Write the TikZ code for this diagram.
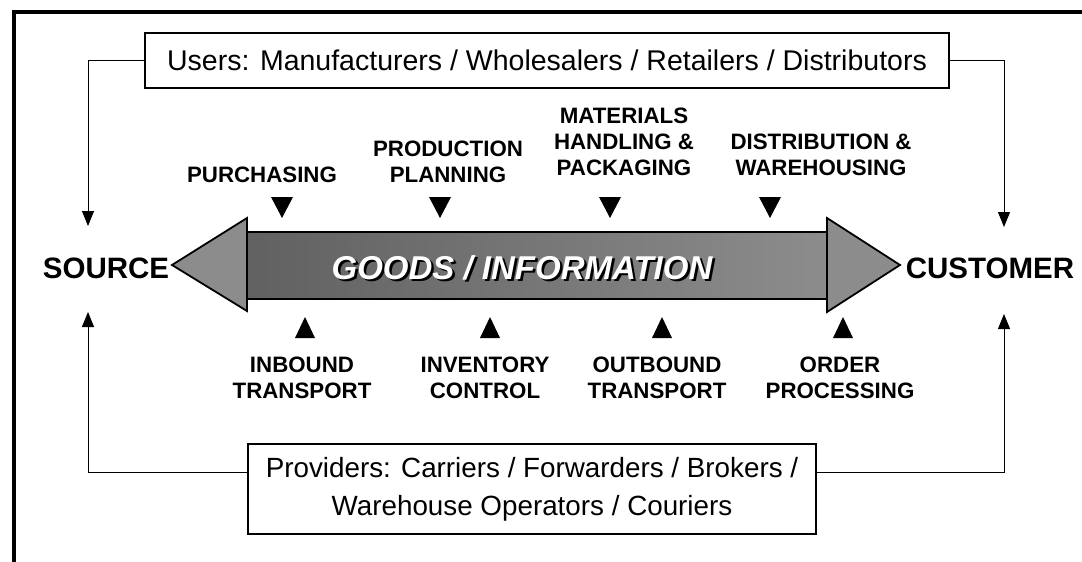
\documentclass[tikz,border=0pt]{standalone}
\usepackage{fontspec}
\setmainfont{Liberation Sans}
\usetikzlibrary{arrows.meta,calc}
\begin{document}
\begin{tikzpicture}[x=1pt,y=-1pt,
  box/.style={draw=black, line width=1.2pt, fill=white, inner sep=0pt, font=\fontsize{28.5}{38}\selectfont},
  lbl/.style={font=\fontsize{22.3}{26}\bfseries\selectfont, align=center, inner sep=0pt},
  endlbl/.style={font=\fontsize{29.5}{32}\bfseries\selectfont, inner sep=0pt},
  conn/.style={line width=1pt, -{Triangle[width=12pt,length=15pt]}},
  goodsfont/.style={font=\fontsize{33}{38}\bfseries\itshape\selectfont, inner sep=0pt},
  arrowline/.style={line width=1.8pt, line join=miter},
]
\useasboundingbox (0,0) rectangle (1082,562);
% frame
\draw[line width=4pt] (14,562) -- (14,12) -- (1082,12);

% boxes
\node[box, minimum width=804pt, minimum height=55pt] (users) at (547,60.5)
  {Users: Manufacturers / Wholesalers / Retailers / Distributors};
\node[box, minimum width=568pt, minimum height=90pt, align=center,
      font=\fontsize{27.8}{38}\selectfont] (prov) at (532,489)
  {Providers: Carriers / Forwarders / Brokers /\\ Warehouse Operators / Couriers};

% ends
\node[endlbl] (source) at (106,268) {SOURCE};
\node[endlbl] (customer) at (990,268) {CUSTOMER};

% connectors
\coordinate (srcTop) at (88,226);
\coordinate (srcBot) at (88,312);
\coordinate (cusTop) at (1004,227);
\coordinate (cusBot) at (1004,314);
\coordinate (provY) at (0,472);
\draw[conn] (users.west) -| (srcTop);
\draw[conn] (users.east) -| (cusTop);
\draw[conn] (prov.west |- provY) -| (srcBot);
\draw[conn] (prov.east |- provY) -| (cusBot);

% big double arrow
\shade[left color=black!62, middle color=black!25, right color=black!45] (247,232) rectangle (827,299);
\draw[arrowline] (247,232) rectangle (827,299);
\filldraw[arrowline, fill=black!45] (172,265) -- (247,218) -- (247,311) -- cycle;
\filldraw[arrowline, fill=black!45] (900,265) -- (827,218) -- (827,312) -- cycle;

\node[goodsfont] (goods) at (522,269)
  {\makebox[0pt][l]{\hspace{2.5pt}\raisebox{-2.5pt}{\color{black}GOODS / INFORMATION}}\color{white}GOODS / INFORMATION};

% markers
\foreach \x in {282,440,610,770} \fill (\x-11,197) -- (\x+11,197) -- (\x,218) -- cycle;
\foreach \x in {305,490,662,843} \fill (\x-10,338) -- (\x+10,338) -- (\x,317) -- cycle;

% labels
\node[lbl] (purch) at (262,175) {PURCHASING};
\node[lbl] (prodplan) at (448,161.5) {PRODUCTION\\PLANNING};
\node[lbl] (mat) at (624,142) {MATERIALS\\HANDLING \&\\PACKAGING};
\node[lbl] (dist) at (821,154.5) {DISTRIBUTION \&\\WAREHOUSING};
\node[lbl] (inb) at (302,378) {INBOUND\\TRANSPORT};
\node[lbl] (inv) at (485,378) {INVENTORY\\CONTROL};
\node[lbl] (outb) at (657,378) {OUTBOUND\\TRANSPORT};
\node[lbl] (order) at (840,378) {ORDER\\PROCESSING};
\end{tikzpicture}
\end{document}
